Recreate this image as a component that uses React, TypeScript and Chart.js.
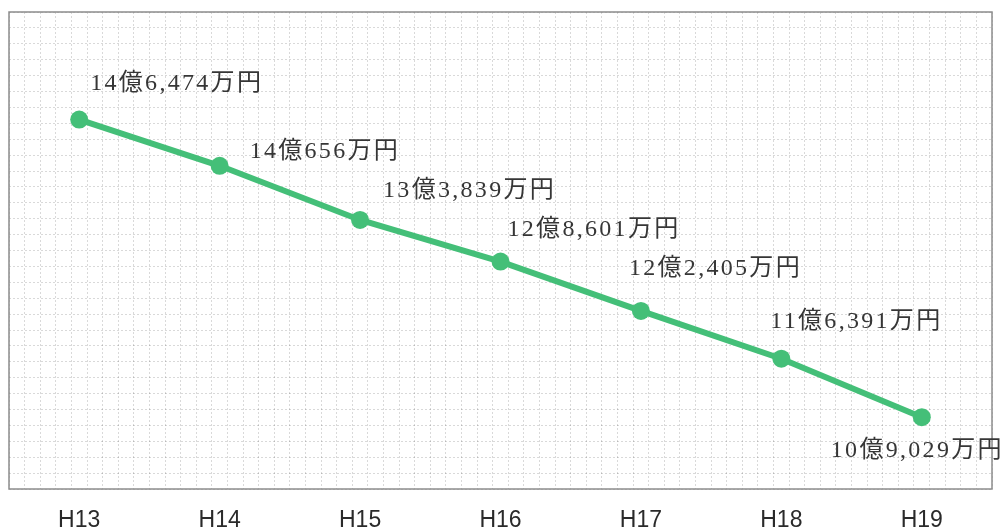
import React, { useEffect, useRef } from "react";
import { Chart, registerables } from "chart.js";

Chart.register(...registerables);

const categories = ["H13", "H14", "H15", "H16", "H17", "H18", "H19"];
// 万円
const amounts = [146474, 140656, 133839, 128601, 122405, 116391, 109029];
// label placement relative to each point (dx, dy)
const labelDx = [11, 30, 23, 7, -12, -11, -91];
const labelDy = [-36, -14, -29, -32, -42, -37, 33];

const Y_MIN = 100000;
const Y_MAX = 160000;
const Y_GRID_STEP = 2000;
const X_GRID_CELLS = 63;

const GREEN = "#44bf78";

function formatYen(v: number): string {
  const oku = Math.floor(v / 10000);
  const man = v % 10000;
  return `${oku}億${man.toLocaleString("en-US")}万円`;
}

const boxPlugin = {
  id: "boxPlugin",
  beforeDatasetsDraw(chart: any) {
    const { ctx, chartArea } = chart;
    ctx.save();
    ctx.strokeStyle = "#8c8c8c";
    ctx.lineWidth = 1.5;
    ctx.strokeRect(chartArea.left, chartArea.top, chartArea.right - chartArea.left, chartArea.bottom - chartArea.top);
    ctx.restore();
  },
};

const labelPlugin = {
  id: "labelPlugin",
  afterDatasetsDraw(chart: any) {
    const { ctx } = chart;
    const meta = chart.getDatasetMeta(0);
    ctx.save();
    ctx.font = '24px "Liberation Serif", "Noto Sans CJK JP", serif';
    (ctx as any).letterSpacing = "2.3px";
    ctx.fillStyle = "#363636";
    ctx.textAlign = "left";
    ctx.textBaseline = "middle";
    meta.data.forEach((pt: any, i: number) => {
      ctx.fillText(formatYen(amounts[i]), pt.x + labelDx[i], pt.y + labelDy[i]);
    });
    ctx.restore();
  },
};

export default function App() {
  const ref = useRef<HTMLCanvasElement | null>(null);
  useEffect(() => {
    if (!ref.current) return;
    const chart = new Chart(ref.current, {
      type: "line",
      data: {
        labels: categories,
        datasets: [
          {
            data: amounts,
            borderColor: GREEN,
            backgroundColor: GREEN,
            borderWidth: 6,
            pointRadius: 9,
            pointHoverRadius: 9,
            pointBackgroundColor: GREEN,
            pointBorderWidth: 0,
            tension: 0,
            xAxisID: "x",
            yAxisID: "y",
          },
        ],
      },
      options: {
        animation: false,
        responsive: false,
        maintainAspectRatio: false,
        devicePixelRatio: 1,
        layout: { padding: { left: 7, top: 12, right: 10, bottom: 0 } },
        plugins: { legend: { display: false }, tooltip: { enabled: false } },
        scales: {
          x: {
            type: "category",
            offset: true,
            grid: { display: false, drawTicks: false },
            border: { display: false },
            ticks: {
              color: "#2a2a2a",
              padding: 20,
              maxRotation: 0,
              font: { family: '"Liberation Sans", Arial, sans-serif', size: 23, lineHeight: 1 },
            },
            afterFit(scale: any) {
              scale.height = 41;
            },
          },
          x2: {
            type: "linear",
            position: "top",
            min: 0,
            max: X_GRID_CELLS,
            ticks: { display: false, stepSize: 1 },
            grid: { color: "rgba(0,0,0,0.15)", lineWidth: 1, drawTicks: false },
            border: { display: false, dash: [2, 2] },
          },
          y: {
            type: "linear",
            min: Y_MIN,
            max: Y_MAX,
            ticks: { display: false, stepSize: Y_GRID_STEP },
            grid: { color: "rgba(0,0,0,0.15)", lineWidth: 1, drawTicks: false },
            border: { display: false, dash: [2, 2] },
          },
        },
      },
      plugins: [boxPlugin, labelPlugin],
    });
    return () => chart.destroy();
  }, []);
  return (
    <div style={{ position: "absolute", left: 0, top: 0, width: 1002, height: 530, background: "#fff" }}>
      <canvas ref={ref} width={1002} height={530} style={{ display: "block", width: 1002, height: 530 }} />
    </div>
  );
}
